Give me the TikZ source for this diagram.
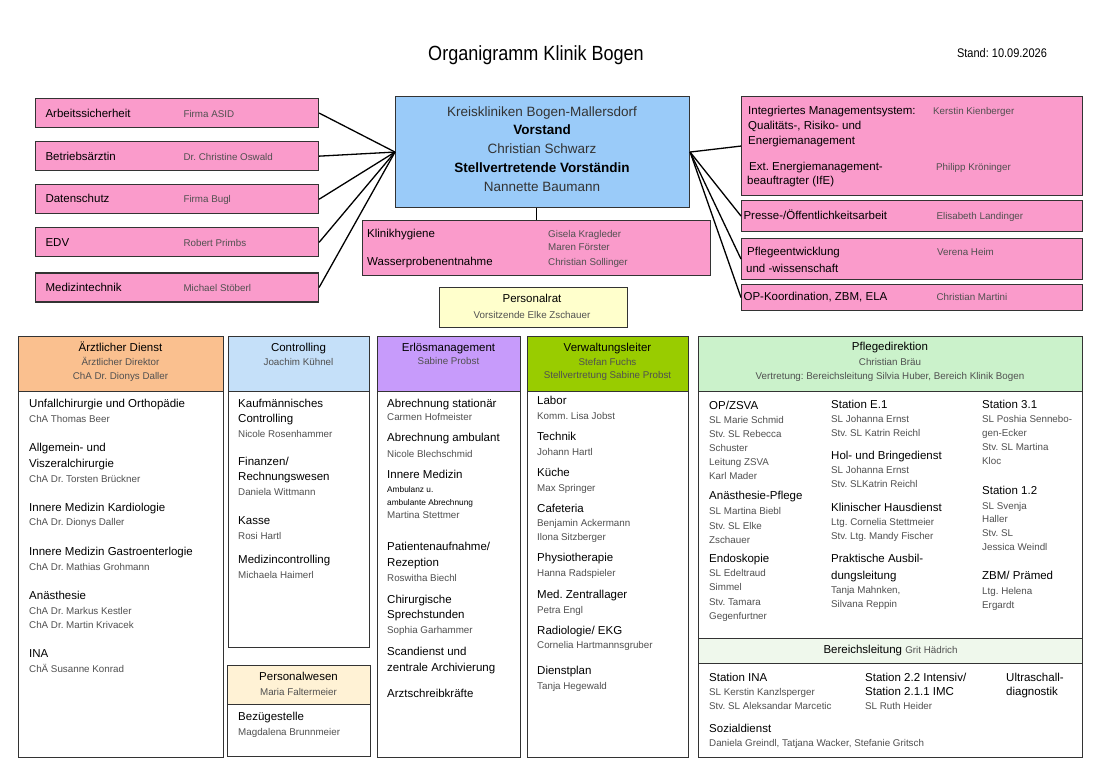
\documentclass[tikz,border=0pt]{standalone}
\usepackage{fontspec}
\setmainfont{Liberation Sans}
\newfontfamily\titlefont{Liberation Sans}[FakeStretch=0.88]
\usetikzlibrary{positioning}
\frenchspacing

\definecolor{linegray}{HTML}{333333}
\definecolor{namegray}{HTML}{505050}
\definecolor{pinkfill}{HTML}{FA9BCB}
\definecolor{vorstandblue}{HTML}{9ACBF9}
\definecolor{ratyellow}{HTML}{FFFFCC}
\definecolor{adorange}{HTML}{FAC08F}
\definecolor{ctrlblue}{HTML}{C5E0F9}
\definecolor{pwcream}{HTML}{FFF2D5}
\definecolor{elpurple}{HTML}{C79BFB}
\definecolor{vwgreen}{HTML}{99CC00}
\definecolor{pdgreen}{HTML}{CBF2CB}
\definecolor{blgreen}{HTML}{EFF8EC}

\newcommand{\hdfont}{\fontsize{11.5}{14}\selectfont\color{black}}
\newcommand{\nmfont}{\fontsize{9.8}{12}\selectfont\color{namegray}}
\newcommand{\smfont}{\fontsize{8.3}{10}\selectfont\color{black}}

\begin{document}
\begin{tikzpicture}[x=1pt,y=-1pt]
\tikzset{
  box/.style={draw=linegray, line width=1.1pt, inner sep=0pt, anchor=north west},
  sidebox/.style={box, fill=pinkfill, minimum width=283pt, minimum height=29pt, inner xsep=10pt, font=\hdfont},
  rightbox/.style={box, fill=pinkfill, minimum width=341pt, inner xsep=2pt, font=\hdfont},
  link/.style={line width=1.3pt, black},
  hd/.style={anchor=mid west, inner sep=0pt, font=\hdfont},
  nm/.style={anchor=mid west, inner sep=0pt, font=\nmfont},
  sm/.style={anchor=mid west, inner sep=0pt, font=\smfont},
  hdc/.style={anchor=mid, inner sep=0pt, font=\hdfont},
  nmc/.style={anchor=mid, inner sep=0pt, font=\nmfont}
}
\useasboundingbox (0,0) rectangle (1100,778);

% title
\node[anchor=mid, font=\titlefont\fontsize{20.5}{24}\selectfont] (title) at (536,58) {Organigramm Klinik Bogen};
\node[anchor=mid, font=\titlefont\fontsize{12.5}{15}\selectfont] (stand) at (1002,55) {Stand: 10.09.2026};

% Vorstand
\node[box, fill=vorstandblue, minimum width=294pt, minimum height=111pt] (vorstand) at (395,96) {};
\foreach \y/\t in {114/{\color{linegray}Kreiskliniken Bogen-Mallersdorf}, 132/{\bfseries Vorstand}, 151/{\color{linegray}Christian Schwarz}, 170/{\bfseries Stellvertretende Vorständin}, 189/{\color{linegray}Nannette Baumann}}
  \node[anchor=mid, inner sep=0pt, font=\fontsize{13.5}{16}\selectfont] (vs\y) at (542,\y) {\t};

% left staff boxes
\node[sidebox] (arb) at (35,98) {\makebox[263pt][l]{\makebox[138pt][l]{Arbeitssicherheit}{\nmfont Firma ASID}}};
\node[sidebox] (betr) [below=13pt of arb] {\makebox[263pt][l]{\makebox[138pt][l]{Betriebsärztin}{\nmfont Dr. Christine Oswald}}};
\node[sidebox] (daten) [below=13pt of betr] {\makebox[263pt][l]{\makebox[138pt][l]{Datenschutz}{\nmfont Firma Bugl}}};
\node[sidebox] (edv) [below=13pt of daten] {\makebox[263pt][l]{\makebox[138pt][l]{EDV}{\nmfont Robert Primbs}}};
\node[sidebox] (medtech) [below=15pt of edv] {\makebox[263pt][l]{\makebox[138pt][l]{Medizintechnik}{\nmfont Michael Stöberl}}};
\foreach \n in {arb,betr,daten,edv,medtech}
  \draw[link] (\n.east) -- (vorstand.west);

% right staff boxes
\node[box, fill=pinkfill, minimum width=341pt, minimum height=99pt] (ims) at (741,96) {};
\node[hd] (ims1) at (748,112) {Integriertes Managementsystem:};
\node[hd] (ims2) at (748,127) {Qualitäts-, Risiko- und};
\node[hd] (ims3) at (748,142) {Energiemanagement};
\node[hd] (ims4) at (749,168) {Ext. Energiemanagement-};
\node[hd] (ims5) at (747,182) {beauftragter (IfE)};
\node[nm] (imsn1) at (933,112) {Kerstin Kienberger};
\node[nm] (imsn2) at (936,168) {Philipp Kröninger};
\node[rightbox, minimum height=31pt] (presse) at (741,200) {\makebox[337pt][l]{\makebox[193pt][l]{Presse-/Öffentlichkeitsarbeit}{\nmfont Elisabeth Landinger}}};
\node[box, fill=pinkfill, minimum width=341pt, minimum height=41pt] (pflent) at (741,238) {};
\node[hd] (pflent1) at (747,253) {Pflegeentwicklung};
\node[hd] (pflent2) at (746,270) {und -wissenschaft};
\node[nm] (pflentn) at (937,253) {Verena Heim};
\node[rightbox, minimum height=26pt] (opko) at (741,284) {\makebox[337pt][l]{\makebox[193pt][l]{OP-Koordination, ZBM, ELA}{\nmfont Christian Martini}}};
\foreach \n in {ims,presse,pflent,opko}
  \draw[link] (vorstand.east) -- (\n.west);

% Klinikhygiene
\node[box, fill=pinkfill, minimum width=348pt, minimum height=55pt] (hyg) at (362,220) {};
\draw[link] (hyg.north |- vorstand.south) -- (hyg.north);
\node[hd] (hyg1) at (367,235) {Klinikhygiene};
\node[hd] (hyg2) at (367,263) {Wasserprobenentnahme};
\foreach \y/\t in {235/Gisela Kragleder, 248/Maren Förster, 263/Christian Sollinger}
  \node[nm] (hygn\y) at (548,\y) {\t};

% Personalrat
\node[box, fill=ratyellow, minimum width=188pt, minimum height=40pt] (prat) at (439,287) {};
\node[hdc] (prat1) at (532,300) {Personalrat};
\node[nmc] (prat2) at (532,316) {Vorsitzende Elke Zschauer};

% Aerztlicher Dienst
\node[box, fill=white, minimum width=205pt, minimum height=366pt] (adbody) at (18,391) {};
\node[box, fill=adorange, minimum width=205pt, minimum height=55pt] (adhead) at (18,336) {};
\foreach \y/\s/\t in {349/hdc/{Ärztlicher Dienst}, 363/nmc/{Ärztlicher Direktor}, 377/nmc/{ChA Dr. Dionys Daller}}
  \node[\s] (adh\y) at (120.5,\y) {\t};
\foreach \y/\s/\t in {405/hd/{Unfallchirurgie und Orthopädie}, 420/nm/{ChA Thomas Beer},
  449/hd/{Allgemein- und}, 465/hd/{Viszeralchirurgie}, 480/nm/{ChA Dr. Torsten Brückner},
  509/hd/{Innere Medizin Kardiologie}, 523/nm/{ChA Dr. Dionys Daller},
  553/hd/{Innere Medizin Gastroenterlogie}, 568/nm/{ChA Dr. Mathias Grohmann},
  597/hd/{Anästhesie}, 612/nm/{ChA Dr. Markus Kestler}, 626/nm/{ChA Dr. Martin Krivacek},
  655/hd/{INA}, 670/nm/{ChÄ Susanne Konrad}}
  \node[\s] (ad\y) at (29,\y) {\t};

% Controlling
\node[box, fill=white, minimum width=141pt, minimum height=256pt] (ctbody) at (228,391) {};
\node[box, fill=ctrlblue, minimum width=141pt, minimum height=55pt] (cthead) at (228,336) {};
\node[hdc] (cth1) at (298.5,349) {Controlling};
\node[nmc] (cth2) at (298.5,363) {Joachim Kühnel};
\foreach \y/\s/\t in {405/hd/{Kaufmännisches}, 420/hd/{Controlling}, 435/nm/{Nicole Rosenhammer},
  463/hd/{Finanzen/}, 478/hd/{Rechnungswesen}, 493/nm/{Daniela Wittmann},
  522/hd/{Kasse}, 537/nm/{Rosi Hartl},
  561/hd/{Medizincontrolling}, 576/nm/{Michaela Haimerl}}
  \node[\s] (ct\y) at (238,\y) {\t};

% Personalwesen
\node[box, fill=white, minimum width=143pt, minimum height=52pt] (pwbody) at (227,704) {};
\node[box, fill=pwcream, minimum width=143pt, minimum height=39pt] (pwhead) at (227,665) {};
\node[hdc] (pwh1) at (298.5,678) {Personalwesen};
\node[nmc] (pwh2) at (298.5,693) {Maria Faltermeier};
\node[hd] (pw1) at (238,718) {Bezügestelle};
\node[nm] (pw2) at (238,733) {Magdalena Brunnmeier};

% Erloesmanagement
\node[box, fill=white, minimum width=143pt, minimum height=366pt] (elbody) at (377,391) {};
\node[box, fill=elpurple, minimum width=143pt, minimum height=55pt] (elhead) at (377,336) {};
\node[hdc] (elh1) at (448.5,349) {Erlösmanagement};
\node[nmc] (elh2) at (448.5,362) {Sabine Probst};
\foreach \y/\s/\t in {405/hd/{Abrechnung stationär}, 418/nm/{Carmen Hofmeister},
  439/hd/{Abrechnung ambulant}, 455/nm/{Nicole Blechschmid},
  476/hd/{Innere Medizin}, 490/sm/{Ambulanz u.}, 503/sm/{ambulante Abrechnung}, 516/nm/{Martina Stettmer},
  548/hd/{Patientenaufnahme/}, 564/hd/{Rezeption}, 579/nm/{Roswitha Biechl},
  601/hd/{Chirurgische}, 616/hd/{Sprechstunden}, 631/nm/{Sophia Garhammer},
  653/hd/{Scandienst und}, 669/hd/{zentrale Archivierung},
  695/hd/{Arztschreibkräfte}}
  \node[\s] (el\y) at (387,\y) {\t};

% Verwaltungsleiter
\node[box, fill=white, minimum width=161pt, minimum height=366pt] (vwbody) at (527,391) {};
\node[box, fill=vwgreen, minimum width=161pt, minimum height=55pt] (vwhead) at (527,336) {};
\foreach \y/\s/\t in {349/hdc/{Verwaltungsleiter}, 363/nmc/{Stefan Fuchs}, 376/nmc/{Stellvertretung Sabine Probst}}
  \node[\s] (vwh\y) at (607.5,\y) {\t};
\foreach \y/\s/\t in {402/hd/{Labor}, 417/nm/{Komm. Lisa Jobst},
  438/hd/{Technik}, 453/nm/{Johann Hartl},
  474/hd/{Küche}, 489/nm/{Max Springer},
  510/hd/{Cafeteria}, 524/nm/{Benjamin Ackermann}, 538/nm/{Ilona Sitzberger},
  559/hd/{Physiotherapie}, 574/nm/{Hanna Radspieler},
  596/hd/{Med. Zentrallager}, 611/nm/{Petra Engl},
  632/hd/{Radiologie/ EKG}, 646/nm/{Cornelia Hartmannsgruber},
  672/hd/{Dienstplan}, 687/nm/{Tanja Hegewald}}
  \node[\s] (vw\y) at (537,\y) {\t};

% Pflegedirektion
\node[box, fill=white, minimum width=384pt, minimum height=366pt] (pdbody) at (698,391) {};
\node[box, fill=pdgreen, minimum width=384pt, minimum height=55pt] (pdhead) at (698,336) {};
\foreach \y/\s/\t in {348/hdc/{Pflegedirektion}, 363/nmc/{Christian Bräu}, 377/nmc/{Vertretung: Bereichsleitung Silvia Huber, Bereich Klinik Bogen}}
  \node[\s] (pdh\y) at (890,\y) {\t};
\foreach \y/\s/\t in {407/hd/{OP/ZSVA}, 421/nm/{SL Marie Schmid}, 435/nm/{Stv. SL Rebecca}, 449/nm/{Schuster}, 463/nm/{Leitung ZSVA}, 477/nm/{Karl Mader},
  497/hd/{Anästhesie-Pflege}, 512/nm/{SL Martina Biebl}, 527/nm/{Stv. SL Elke}, 541/nm/{Zschauer},
  560/hd/{Endoskopie}, 574/nm/{SL Edeltraud}, 588/nm/{Simmel}, 603/nm/{Stv. Tamara}, 617/nm/{Gegenfurtner}}
  \node[\s] (pda\y) at (709,\y) {\t};
\foreach \y/\s/\t in {406/hd/{Station E.1}, 420/nm/{SL Johanna Ernst}, 434/nm/{Stv. SL Katrin Reichl},
  457/hd/{Hol- und Bringedienst}, 471/nm/{SL Johanna Ernst}, 485/nm/{Stv. SLKatrin Reichl},
  509/hd/{Klinischer Hausdienst}, 523/nm/{Ltg. Cornelia Stettmeier}, 537/nm/{Stv. Ltg. Mandy Fischer},
  560/hd/{Praktische Ausbil-}, 577/hd/{dungsleitung}, 591/nm/{Tanja Mahnken,}, 605/nm/{Silvana Reppin}}
  \node[\s] (pdb\y) at (831,\y) {\t};
\foreach \y/\s/\t in {406/hd/{Station 3.1}, 420/nm/{SL Poshia Sennebo-}, 434/nm/{gen-Ecker}, 448/nm/{Stv. SL Martina}, 462/nm/{Kloc},
  492/hd/{Station 1.2}, 507/nm/{SL Svenja}, 520/nm/{Haller}, 534/nm/{Stv. SL}, 548/nm/{Jessica Weindl},
  577/hd/{ZBM/ Prämed}, 592/nm/{Ltg. Helena}, 606/nm/{Ergardt}}
  \node[\s] (pdc\y) at (982,\y) {\t};

% Bereichsleitung
\node[box, fill=blgreen, minimum width=384pt, minimum height=25pt] (bl) at (698,638) {};
\node[hdc] (bltext) at (bl.center) {Bereichsleitung {\nmfont Grit Hädrich}};
\foreach \y/\s/\t in {679/hd/{Station INA}, 693/nm/{SL Kerstin Kanzlsperger}, 707/nm/{Stv. SL Aleksandar Marcetic},
  730/hd/{Sozialdienst}, 744/nm/{Daniela Greindl, Tatjana Wacker, Stefanie Gritsch}}
  \node[\s] (bla\y) at (709,\y) {\t};
\foreach \y/\s/\t in {679/hd/{Station 2.2 Intensiv/}, 693/hd/{Station 2.1.1 IMC}, 707/nm/{SL Ruth Heider}}
  \node[\s] (blb\y) at (865,\y) {\t};
\foreach \y/\s/\t in {679/hd/{Ultraschall-}, 693/hd/{diagnostik}}
  \node[\s] (blc\y) at (1006,\y) {\t};
\end{tikzpicture}
\end{document}
